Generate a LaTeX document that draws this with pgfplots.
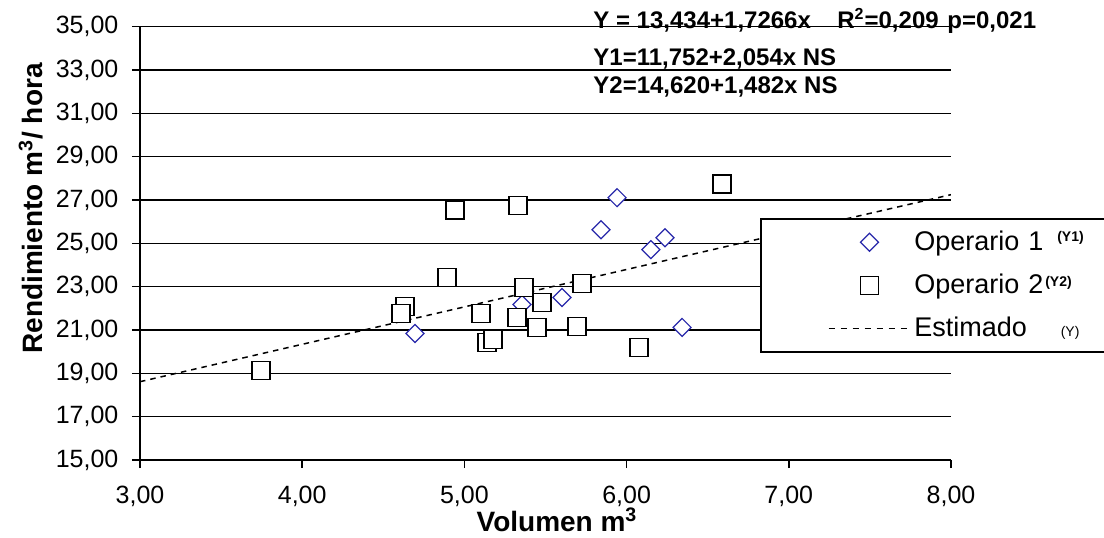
\documentclass[border=0pt]{standalone}
\usepackage{pgfplots}
\pgfplotsset{compat=1.18}
\usepackage{fontspec}
\setmainfont{Liberation Sans}
\definecolor{opblue}{RGB}{40,40,170}
\begin{document}
\begin{tikzpicture}
\path[use as bounding box] (0pt,0pt) rectangle (552pt,268.5pt);
\begin{axis}[
  anchor=south west, at={(70pt,38.5pt)},
  width=405.5pt, height=216.65pt, scale only axis,
  xmin=3, xmax=8, ymin=15, ymax=35,
  xtick={3,4,5,6,7,8}, ytick={15,17,...,35},
  axis lines=left, axis line style={-, line width=0.75pt, black},
  ymajorgrids, grid style={black, line width=0.75pt},
  tick align=outside, major tick length=4pt,
  tick style={black, line width=0.75pt},
  xticklabel style={yshift=-5.3pt}, yticklabel style={xshift=-3.3pt},
  tick label style={font=\fontsize{12.5}{15}\selectfont},
  /pgf/number format/.cd, fixed, fixed zerofill, precision=2, use comma, 1000 sep={}, assume math mode=true, /pgfplots/.cd,
  xlabel={Volumen m\textsuperscript{3}},
  ylabel={Rendimiento m\textsuperscript{3}/ hora},
  xlabel style={at={(axis description cs:0.5142,-0.166)}, anchor=base, font=\fontsize{14}{16}\selectfont\bfseries},
  ylabel style={at={(axis description cs:-0.1344,0.5804)}, anchor=center, font=\fontsize{14}{16}\selectfont\bfseries},
  legend cell align=left,
  legend style={at={(axis description cs:0.7645,0.5585)}, anchor=north west,
    draw=black, line width=0.75pt, fill=white, inner xsep=0pt, inner ysep=1pt,
    row sep=0pt, font=\fontsize{13.5}{16}\selectfont,
    nodes={inner sep=0pt, text width=97pt, minimum height=21.5pt},
    /tikz/every even column/.append style={column sep=1.5pt}},
]
\addplot[forget plot, black, line width=0.75pt, dash pattern=on 2.75pt off 2.5pt] coordinates {(3,18.614) (8,27.247)};
\addplot[only marks, color=opblue, mark=square*, mark size=3.18pt,
  mark options={rotate=45, fill=white, line width=0.6pt},
  legend image code/.code={\path (0pt,0pt) (76pt,0pt); \draw[mark repeat=2,mark phase=2] plot coordinates {(32pt,0pt) (54pt,0pt) (76pt,0pt)};}]
  coordinates {(5.941,27.11) (5.842,25.63) (6.237,25.26) (6.150,24.71) (5.602,22.50) (5.355,22.18) (4.695,20.84) (6.342,21.12)};
\addlegendentry{Operario 1\hspace{7pt}\raisebox{4.5pt}{\fontsize{7}{8}\selectfont\bfseries (Y1)}}
\addplot[only marks, color=black, mark=square*, mark size=4.5pt,
  mark options={fill=white, line width=0.75pt},
  legend image code/.code={\path (0pt,0pt) (76pt,0pt); \draw[mark repeat=2,mark phase=2] plot coordinates {(32pt,0pt) (54pt,0pt) (76pt,0pt)};}]
  coordinates {(3.746,19.13) (4.634,22.08) (4.609,21.76) (4.942,26.55) (5.330,26.74) (6.588,27.75) (4.893,23.42) (5.367,22.96) (5.725,23.14) (5.478,22.27) (5.102,21.76) (5.324,21.58) (5.448,21.12) (5.694,21.16) (5.139,20.42) (5.176,20.56) (6.076,20.19)};
\addlegendentry{Operario 2\hspace{1pt}\raisebox{3.5pt}{\fontsize{7}{8}\selectfont\bfseries (Y2)}}
\addlegendimage{black, line width=0.75pt, dash pattern=on 3pt off 3pt,
  legend image code/.code={\path (0pt,0pt) (76pt,0pt); \draw (33.5pt,0pt) -- (74pt,0pt);}}
\addlegendentry{Estimado\hspace{17pt}{\fontsize{7}{8}\selectfont (Y)}}
\end{axis}
\begin{scope}[every node/.style={inner sep=0pt, anchor=base west, font=\fontsize{12}{14}\selectfont\bfseries}]
\node at (296.5pt,254.5pt) {Y = 13,434+1,7266x};
\node at (418.5pt,254.5pt) {R\textsuperscript{2}=0,209};
\node at (473.5pt,254.5pt) {p=0,021};
\node at (296.5pt,236pt) {Y1=11,752+2,054x NS};
\node at (296.5pt,222pt) {Y2=14,620+1,482x NS};
\end{scope}
\end{tikzpicture}
\end{document}
